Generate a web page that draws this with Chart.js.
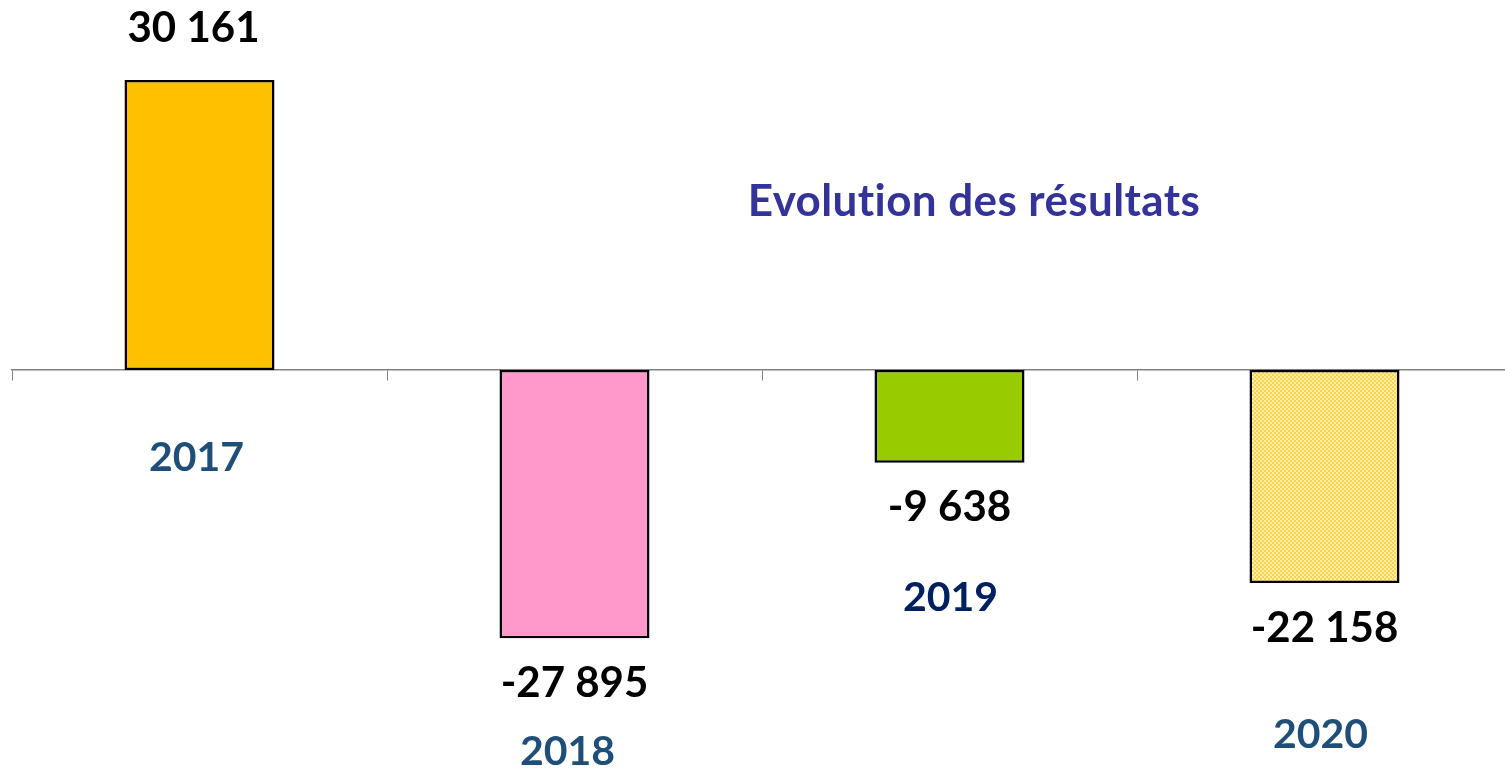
<!DOCTYPE html>
<html>
<head>
<meta charset="utf-8">
<script src="https://cdn.jsdelivr.net/npm/chart.js@4/dist/chart.umd.min.js"></script>
<style>
  html, body { margin: 0; padding: 0; background: #ffffff; overflow: hidden; }
  #wrap { width: 1520px; height: 771px; }
</style>
</head>
<body>
<div id="wrap"><canvas id="c" width="1520" height="771"></canvas></div>
<script>
const categories = ["2017", "2018", "2019", "2020"];
const resultats = [30161, -27895, -9638, -22158];
const chartTitle = "Evolution des résultats";

const barColors = ["#FFC000", "#FF99CC", "#99CC00", null];
const yearColors = ["#1F4E79", "#1F4E79", "#002060", "#1F4E79"];
const yearLabelY = [458, 752, 598, 735];
const yearLabelDx = [-3, -7, 1, -4];
const valueLabelDx = [-6, 0, 0, 0];

function makePattern() {
  const p = document.createElement("canvas");
  p.width = 4; p.height = 4;
  const g = p.getContext("2d");
  g.fillStyle = "#FFD24A";
  g.fillRect(0, 0, 4, 4);
  g.fillStyle = "#FFEFAA";
  g.fillRect(0, 0, 2, 2);
  g.fillRect(2, 2, 2, 2);
  return document.getElementById("c").getContext("2d").createPattern(p, "repeat");
}
barColors[3] = makePattern();

function fmt(v) {
  const s = Math.abs(v).toString().replace(/\B(?=(\d{3})+(?!\d))/g, " ");
  return (v < 0 ? "-" : "") + s;
}

const FONT = "Lato, 'Open Sans', sans-serif";

const labelPlugin = {
  id: "labels",
  afterDatasetsDraw(chart) {
    const ctx = chart.ctx;
    const meta = chart.getDatasetMeta(0);
    ctx.save();
    ctx.textAlign = "center";
    ctx.textBaseline = "middle";
    ctx.font = "bold 42px " + FONT;
    ctx.fillStyle = "#000000";
    meta.data.forEach((bar, i) => {
      const v = resultats[i];
      const y = v >= 0 ? bar.y - 52 : bar.y + 45;
      ctx.fillText(fmt(v), bar.x + valueLabelDx[i], y);
    });
    const xs = chart.scales.x;
    ctx.font = "bold 41px " + FONT;
    categories.forEach((c, i) => {
      ctx.fillStyle = yearColors[i];
      ctx.fillText(c, xs.getPixelForValue(i) + yearLabelDx[i], yearLabelY[i]);
    });
    ctx.font = "bold 44px " + FONT;
    if ("letterSpacing" in ctx) ctx.letterSpacing = "0.4px";
    ctx.fillStyle = "#333399";
    ctx.fillText(chartTitle, 974, 202);
    ctx.restore();
  }
};

new Chart(document.getElementById("c"), {
  type: "bar",
  data: {
    labels: categories,
    datasets: [{
      data: resultats,
      backgroundColor: barColors,
      borderColor: "#000000",
      borderWidth: 2.5,
      borderSkipped: false,
      barPercentage: 0.8,
      categoryPercentage: 0.5
    }]
  },
  options: {
    responsive: false,
    animation: false,
    layout: { padding: { left: 12, right: 8, top: 0, bottom: 0 } },
    plugins: { legend: { display: false }, tooltip: { enabled: false }, title: { display: false } },
    scales: {
      y: { display: false, min: -41705, max: 38481 },
      x: {
        position: { y: 0 },
        grid: { display: true, drawOnChartArea: false, drawTicks: true, tickLength: 10, color: "#808080", offset: true },
        border: { display: true, color: "#808080", width: 1.5 },
        ticks: { display: false }
      }
    }
  },
  plugins: [labelPlugin]
});
</script>
</body>
</html>
